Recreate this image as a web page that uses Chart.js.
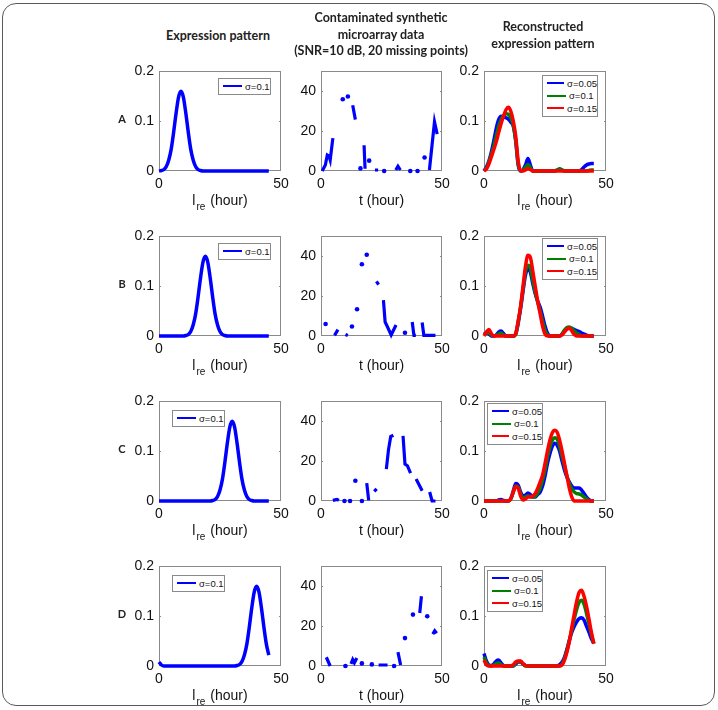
<!DOCTYPE html>
<html><head><meta charset="utf-8">
<script src="https://cdn.jsdelivr.net/npm/chart.js@4.4.0/dist/chart.umd.min.js"></script>
<style>
html,body{margin:0;padding:0;background:#fff;}
body{width:718px;height:710px;position:relative;overflow:hidden;font-family:"Liberation Sans",Arial,sans-serif;}
.frame{position:absolute;left:2px;top:3px;width:713px;height:703px;border:1.5px solid #5a5a5a;border-radius:14px;box-sizing:border-box;}
.cv{position:absolute;}
.coltitle{position:absolute;font-family:Lato,"Open Sans",sans-serif;font-weight:bold;font-size:12.5px;color:#222;text-align:center;line-height:16.7px;white-space:nowrap;transform:translateX(-50%);}
.rowlab{position:absolute;font-family:Lato,"Open Sans",sans-serif;font-weight:bold;font-size:11px;color:#222;transform:translate(-50%,-50%);}
.xt{position:absolute;font-size:14px;line-height:18px;color:#111;transform:translateX(-50%);white-space:nowrap;}
.xt .sub{font-size:10px;position:relative;top:5px;margin-left:1px;margin-right:1px;}
.leg{position:absolute;border:1px solid #8a8a8a;background:#fff;font-size:9.5px;color:#111;box-sizing:border-box;padding:1px 0;}
.leg .row{display:flex;align-items:center;height:12.5px;white-space:nowrap;}
.leg .ln{display:inline-block;width:19px;height:2px;margin:0 3px 0 4px;}
</style></head>
<body>
<div class="frame"></div>
<div id="root"></div>
<script>
// ---------- data ----------
const hours = [0,1,2,3,4,5,6,7,8,9,10,11,12,13,14,15,16,17,18,19,20,21,22,23,24,25,26,27,28,29,30,31,32,33,34,35,36,37,38,39,40,41,42,43,44,45];
const rowNames = ['A','B','C','D'];
const colTitles = [['Expression pattern'],['Contaminated synthetic','microarray data','(SNR=10 dB, 20 missing points)'],['Reconstructed','expression pattern']];
const legendExpr = ['σ=0.1'];
const legendRec = ['σ=0.05','σ=0.1','σ=0.15'];
const xTicks = [0,50];
const xTickLabels = ['0','50'];
const yTicksExpr = [0,0.1,0.2];
const yTickLabelsExpr = ['0','0.1','0.2'];
const yTicksNoisy = [0,20,40];
const yTickLabelsNoisy = ['0','20','40'];

// expression pattern (column 1)
const exprA = [0,0.001,0.003,0.009,0.022,0.044,0.078,0.116,0.148,0.16,
  0.148,0.116,0.078,0.044,0.022,0.009,0.003,0.001,0,0,
  0,0,0,0,0,0,0,0,0,0, 0,0,0,0,0,0,0,0,0,0, 0,0,0,0,0,0];
const exprB = [0,0,0,0,0,0,0,0,0,0,
  0,0.001,0.003,0.009,0.022,0.044,0.078,0.116,0.148,0.16,
  0.148,0.116,0.078,0.044,0.022,0.009,0.003,0.001,0,0,
  0,0,0,0,0,0,0,0,0,0, 0,0,0,0,0,0];
const exprC = [0,0,0,0,0,0,0,0,0,0, 0,0,0,0,0,0,0,0,0,0,
  0,0,0.001,0.003,0.009,0.022,0.044,0.078,0.116,0.148,
  0.16,0.148,0.116,0.078,0.044,0.022,0.009,0.003,0.001,0,
  0,0,0,0,0,0];
const exprD = [0.008,0.002,0,0,0,0,0,0,0,0, 0,0,0,0,0,0,0,0,0,0, 0,0,0,0,0,0,0,0,0,0,
  0,0,0.001,0.003,0.009,0.022,0.044,0.078,0.116,0.148,
  0.16,0.148,0.116,0.078,0.044,0.022];

// contaminated data (column 2); null = missing point (gap)
const noisyA_t = [0.5,1.8,2.6,3.3,3.8,4.9,null,9.0,null,11.1,null,13.1,14.2,null,16.3,null,17.8,18.2,null,19.9,null,22.3,23.6,null,26.1,null,30.9,31.8,32.8,null,36.9,null,39.9,null,42.8,null,44.8,46.9,48.0];
const noisyA_y = [0,3,8,7.5,5.5,16.5,null,36,null,37.4,null,33,25.8,null,1.3,null,12.9,1.1,null,5.2,null,0.5,0.5,null,0,null,0.5,2.4,0.5,null,0,null,0,null,6.8,null,0.5,24.7,18.5];
const noisyB_t = [1.9,null,5.6,7.0,null,10.1,11.1,null,12.8,null,14.9,null,16.9,null,18.9,null,22.9,23.8,null,25.8,26.5,27.3,29.0,31.0,null,34.7,null,37.7,38.4,39.2,null,41.8,42.5,47.3];
const noisyB_y = [6.0,null,0.3,3.2,null,0.8,0.3,null,4.8,null,13.4,null,36,null,40.8,null,27.4,25.8,null,18,7,5,0.5,5.5,null,1.6,null,7,0.3,0.3,null,6.8,0.3,0.3];
const noisyC_t = [4.9,6.6,7.4,null,9.7,null,12.0,null,14.2,null,16.9,null,18.9,19.7,null,22.0,23.0,null,27.0,27.9,28.8,29.9,null,33.9,34.7,35.7,37.0,null,39.3,41.8,null,44.9,45.9,47.3];
const noisyC_y = [0.3,0.8,0.3,null,0,null,0,null,10.2,null,0,null,9,0.3,null,4.8,6.1,null,16,25.8,32.3,33,null,32.7,18.5,17.7,14,null,11,5.2,null,4.5,0,0];
const noisyD_t = [2.2,3.8,null,10.1,null,12.4,13.1,13.8,14.8,null,16.9,null,21.0,null,23.8,27.5,null,30.2,null,31.8,32.9,null,34.7,null,38.0,null,40.8,41.5,null,43.9,null,46.2,47.0,47.8];
const noisyD_y = [4.4,0,null,0,null,1.1,3.2,1.6,4,null,1.3,null,0.8,null,0.5,0.5,null,0,null,7,0.5,null,14,null,25.8,null,26.6,35,null,25,null,16,17.7,16.5];

// reconstructed (column 3): sigma 0.05 (blue), 0.1 (green), 0.15 (red)
const recA_s005 = [0,0.008,0.02,0.038,0.06,0.085,0.103,0.11,0.109,0.107,
  0.104,0.098,0.09,0.06,0.012,0,0.003,0.012,0.025,0.012,
  0,0,0,0,0,0,0,0,0,0,
  0.002,0.004,0.002,0,0,0,0,0,0,0,
  0.003,0.008,0.012,0.014,0.015,0.015];
const recA_s01 = [0,0.006,0.018,0.033,0.05,0.07,0.09,0.103,0.111,0.115,
  0.114,0.107,0.092,0.062,0.015,0,0.002,0.007,0.013,0.007,
  0,0,0,0,0,0,0,0,0,0,
  0.002,0.004,0.002,0,0,0,0,0,0,0,
  0,0,0,0.001,0.002,0.002];
const recA_s015 = [0,0.004,0.014,0.028,0.043,0.058,0.077,0.095,0.11,0.123,
  0.128,0.12,0.1,0.07,0.02,0,0,0.002,0.005,0.003,
  0,0,0,0,0,0,0,0,0,0, 0,0,0,0,0,0,0,0,0,0, 0,0,0,0,0,0];
const recB_s005 = [0.004,0.006,0.004,0,0,0.002,0.008,0.01,0.005,0,
  0,0,0,0.004,0.025,0.055,0.09,0.122,0.136,0.128,
  0.105,0.085,0.07,0.058,0.04,0.02,0.006,0,0,0,
  0,0,0.004,0.01,0.014,0.016,0.015,0.013,0.011,0.009,
  0.006,0.004,0.002,0,0,0];
const recB_s01 = [0.002,0.006,0.006,0.002,0,0.001,0.004,0.006,0.002,0,
  0,0,0,0.004,0.028,0.058,0.095,0.13,0.142,0.136,
  0.112,0.088,0.068,0.05,0.03,0.012,0.002,0,0,0,
  0,0,0.004,0.012,0.017,0.018,0.015,0.01,0.006,0.003,
  0,0,0,0,0,0];
const recB_s015 = [0,0.008,0.013,0.005,0,0,0,0,0,0,
  0,0,0,0.005,0.03,0.06,0.1,0.14,0.162,0.158,
  0.13,0.1,0.07,0.045,0.02,0.004,0,0,0,0,
  0,0,0.002,0.008,0.014,0.016,0.01,0.003,0,0,
  0,0,0,0,0,0];
const recC_s005 = [0,0,0,0,0,0,0.002,0.003,0.001,0,
  0,0.005,0.02,0.035,0.032,0.018,0.01,0.012,0.016,0.013,
  0.008,0.008,0.013,0.018,0.03,0.05,0.075,0.095,0.11,0.116,
  0.112,0.1,0.08,0.062,0.048,0.038,0.03,0.026,0.026,0.026,
  0.022,0.015,0.008,0.003,0,0];
const recC_s01 = [0,0,0,0,0,0,0,0,0,0,
  0,0.004,0.018,0.03,0.028,0.014,0.006,0.008,0.01,0.009,
  0.008,0.01,0.016,0.026,0.042,0.062,0.088,0.108,0.122,0.127,
  0.124,0.11,0.09,0.07,0.05,0.035,0.024,0.018,0.015,0.014,
  0.012,0.008,0.004,0.001,0,0];
const recC_s015 = [0,0,0,0,0,0,0,0,0,0,
  0,0.005,0.018,0.029,0.026,0.01,0.002,0.004,0.008,0.008,
  0.01,0.015,0.025,0.038,0.052,0.075,0.1,0.122,0.137,0.142,
  0.138,0.122,0.1,0.075,0.05,0.025,0.008,0,0,0,
  0,0,0,0,0,0];
const recD_s005 = [0.025,0.01,0.002,0.001,0.004,0.01,0.012,0.006,0.001,0,
  0,0,0,0.004,0.008,0.008,0.004,0.001,0,0,
  0,0,0,0,0,0,0,0,0,0,
  0,0.003,0.008,0.018,0.034,0.052,0.068,0.08,0.089,0.095,
  0.097,0.092,0.08,0.068,0.055,0.045];
const recD_s01 = [0.018,0.006,0.001,0,0.002,0.005,0.006,0.003,0,0,
  0,0,0,0.006,0.009,0.009,0.004,0,0,0,
  0,0,0,0,0,0,0,0,0,0,
  0,0,0.004,0.015,0.031,0.051,0.073,0.095,0.114,0.128,
  0.132,0.124,0.106,0.085,0.064,0.045];
const recD_s015 = [0.012,0.002,0,0,0,0,0,0,0,0,
  0,0,0.003,0.008,0.01,0.01,0.005,0.001,0,0,
  0,0,0,0,0,0,0,0,0,0,
  0,0,0.002,0.012,0.028,0.05,0.078,0.105,0.13,0.148,
  0.152,0.14,0.12,0.095,0.068,0.045];

// ---------- layout ----------
const colLeft = [159,321,484];
const colW = [122,121,122];
const rowTop = [68,233,398,563];
const plotH = 103;
const PADL = 50, PADT = 10, PADR = 16, PADB = 26;
const BLUE = '#0000ff', GREEN = '#008000', RED = '#ff0000';
const tickFont = {family:'"Liberation Sans", Arial, sans-serif', size:14};

const root = document.getElementById('root');

const boxPlugin = {
  id:'box',
  beforeDatasetsDraw(chart){
    const {ctx, chartArea:a} = chart;
    ctx.save();
    ctx.strokeStyle = '#8a8a8a';
    ctx.lineWidth = 1;
    ctx.strokeRect(Math.round(a.left)+0.5, Math.round(a.top)+0.5, Math.round(a.right-a.left)-1, Math.round(a.bottom-a.top)-1);
    const ys = chart.scales.y;
    ys.ticks.forEach(t => {
      const py = Math.round(ys.getPixelForValue(t.value)) + 0.5;
      if (py < a.top + 2 || py > a.bottom - 2) return;
      ctx.beginPath();
      ctx.moveTo(a.left, py); ctx.lineTo(a.left + 2, py);
      ctx.moveTo(a.right, py); ctx.lineTo(a.right - 2, py);
      ctx.stroke();
    });
    ctx.restore();
  }
};

function toPts(xs, ys){
  const out = []; let last = 0;
  for (let i = 0; i < ys.length; i++){
    const x = xs[i] === null ? last : xs[i];
    last = x;
    out.push({x:x, y:ys[i]});
  }
  return out;
}

function makeChart(ci, ri, datasets, yMax, yTicks, yLabels){
  const L = colLeft[ci], T = rowTop[ri], W = colW[ci];
  const cv = document.createElement('canvas');
  cv.className = 'cv';
  const cw = PADL + W + PADR, chh = PADT + plotH + PADB;
  cv.width = cw; cv.height = chh;
  cv.style.left = (L - PADL) + 'px'; cv.style.top = (T - PADT) + 'px';
  cv.style.width = cw + 'px'; cv.style.height = chh + 'px';
  root.appendChild(cv);
  new Chart(cv, {
    type:'line',
    data:{datasets:datasets},
    plugins:[boxPlugin],
    options:{
      responsive:false, animation:false, devicePixelRatio:1,
      layout:{padding:{left:0, top:PADT, right:PADR, bottom:0}, autoPadding:false},
      plugins:{legend:{display:false}, tooltip:{enabled:false}},
      elements:{point:{radius:0}},
      scales:{
        x:{type:'linear', min:0, max:50,
           afterBuildTicks:s => { s.ticks = xTicks.map(v => ({value:v})); },
           afterFit:s => { s.height = PADB; },
           grid:{display:false, drawTicks:false}, border:{display:false},
           ticks:{padding:5, font:tickFont, color:'#111', maxRotation:0, autoSkip:false,
                  callback:v => xTickLabels[xTicks.indexOf(v)]}},
        y:{type:'linear', min:0, max:yMax,
           afterBuildTicks:s => { s.ticks = yTicks.map(v => ({value:v})); },
           afterFit:s => { s.width = PADL; },
           grid:{display:false, drawTicks:false}, border:{display:false},
           ticks:{padding:5, font:tickFont, color:'#111', autoSkip:false,
                  callback:v => yLabels[yTicks.indexOf(v)]}}
      }
    }
  });
}

function lineDs(vals, color, w){
  return {data: toPts(hours, vals), borderColor: color, backgroundColor: color, borderWidth: w,
          cubicInterpolationMode:'monotone', pointRadius:0, clip:6, fill:false};
}

// dot only for samples whose neighbours are both missing
function isolatedRadius(ys){
  return ctx => {
    const i = ctx.dataIndex;
    if (ys[i] === null) return 0;
    const prev = i > 0 ? ys[i-1] : null;
    const next = i < ys.length - 1 ? ys[i+1] : null;
    return (prev === null && next === null) ? 2.3 : 0;
  };
}

function addLegend(x, y, w, items){
  const d = document.createElement('div');
  d.className = 'leg';
  d.style.left = x + 'px'; d.style.top = y + 'px'; d.style.width = w + 'px';
  items.forEach(([txt, col]) => {
    const r = document.createElement('div'); r.className = 'row';
    const ln = document.createElement('span'); ln.className = 'ln'; ln.style.background = col;
    const t = document.createElement('span'); t.textContent = txt;
    r.appendChild(ln); r.appendChild(t); d.appendChild(r);
  });
  root.appendChild(d);
}

function addXTitle(ci, ri, sub){
  const d = document.createElement('div');
  d.className = 'xt';
  d.style.left = (colLeft[ci] + colW[ci]/2) + 'px';
  d.style.top = (rowTop[ri] + plotH + 20) + 'px';
  if (sub) d.innerHTML = 'l<span class="sub">re</span> (hour)';
  else d.textContent = 't (hour)';
  root.appendChild(d);
}

const exprs = [exprA, exprB, exprC, exprD];
const noisyT = [noisyA_t, noisyB_t, noisyC_t, noisyD_t];
const noisyY = [noisyA_y, noisyB_y, noisyC_y, noisyD_y];
const rec005 = [recA_s005, recB_s005, recC_s005, recD_s005];
const rec01 = [recA_s01, recB_s01, recC_s01, recD_s01];
const rec015 = [recA_s015, recB_s015, recC_s015, recD_s015];

for (let r = 0; r < 4; r++){
  makeChart(0, r, [lineDs(exprs[r], BLUE, 3.5)], 0.2, yTicksExpr, yTickLabelsExpr);
  makeChart(1, r, [{data: toPts(noisyT[r], noisyY[r]), borderColor: BLUE, backgroundColor: BLUE,
      borderWidth: 3.2, pointRadius: isolatedRadius(noisyY[r]), pointBorderWidth: 0, pointBackgroundColor: BLUE,
      spanGaps:false, tension:0, clip:6}], 50, yTicksNoisy, yTickLabelsNoisy);
  makeChart(2, r, [lineDs(rec015[r], RED, 3.5), lineDs(rec01[r], GREEN, 3.5), lineDs(rec005[r], BLUE, 3.5)],
      0.2, yTicksExpr, yTickLabelsExpr);
  addXTitle(0, r, true); addXTitle(1, r, false); addXTitle(2, r, true);

  const rl = document.createElement('div'); rl.className = 'rowlab';
  rl.style.left = '122px'; rl.style.top = (rowTop[r] + 50) + 'px'; rl.textContent = rowNames[r];
  root.appendChild(rl);
}

// legends
const legExprPos = [[218,78],[218,243],[172,410],[172,575]];
const legRecPos = [[542,75],[542,238],[487,403],[487,570]];
for (let r = 0; r < 4; r++){
  addLegend(legExprPos[r][0], legExprPos[r][1], 53, [[legendExpr[0], BLUE]]);
  addLegend(legRecPos[r][0], legRecPos[r][1], 56, [[legendRec[0], BLUE],[legendRec[1], GREEN],[legendRec[2], RED]]);
}

// column titles
const titleCenters = [[218,28],[381,10],[543,19]];
colTitles.forEach((lines, i) => {
  const d = document.createElement('div'); d.className = 'coltitle';
  d.style.left = titleCenters[i][0] + 'px'; d.style.top = titleCenters[i][1] + 'px';
  d.innerHTML = lines.join('<br>');
  root.appendChild(d);
});
</script>
</body></html>
